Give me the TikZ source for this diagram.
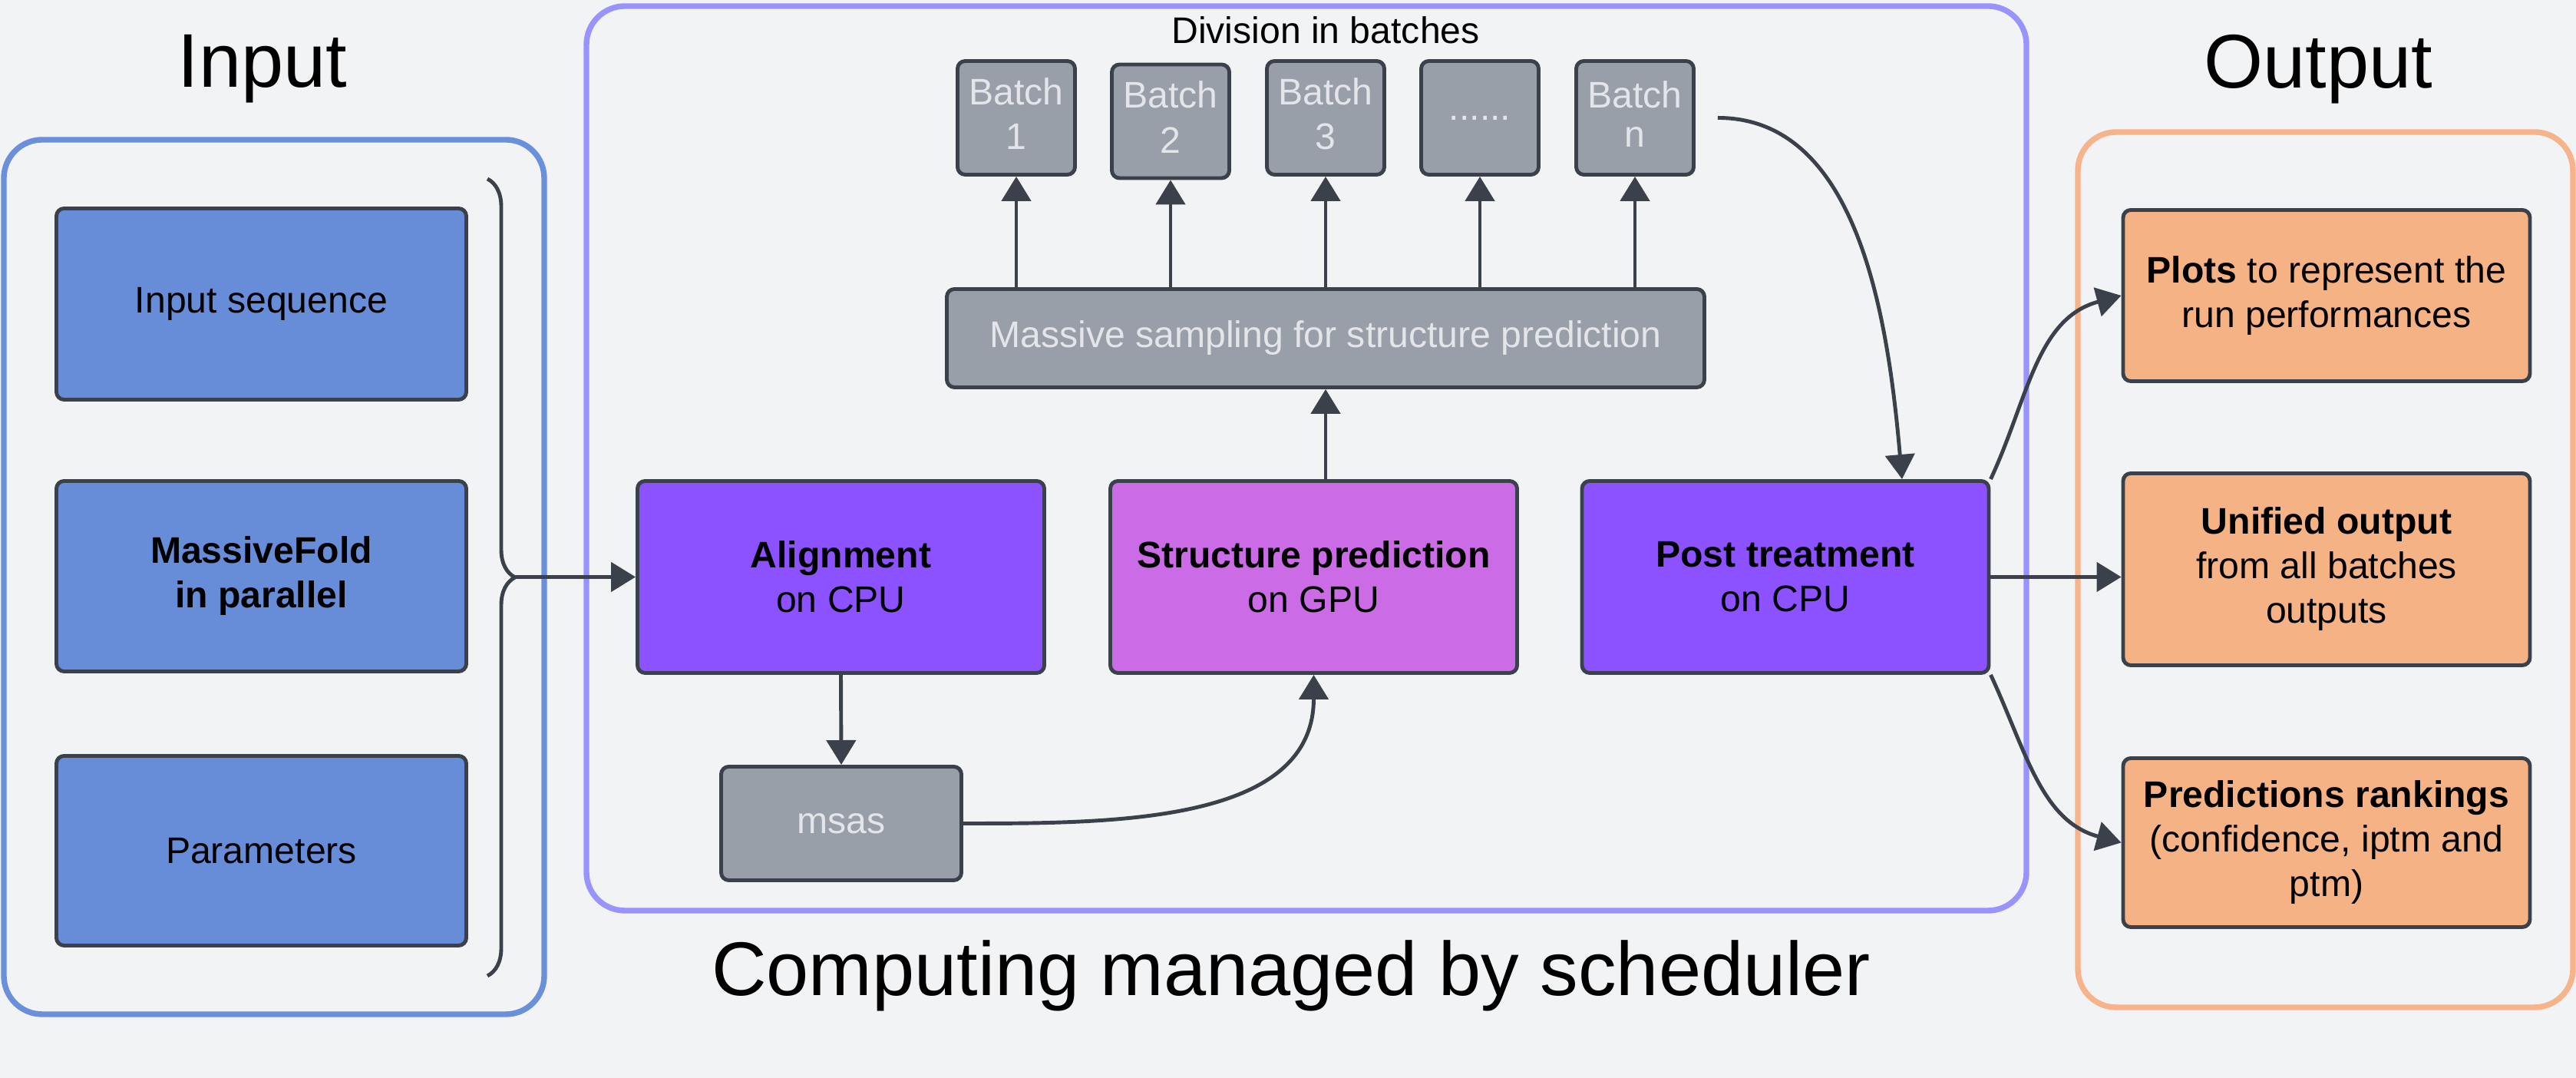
\documentclass[tikz,border=0pt]{standalone}
\usepackage{fontspec}
\setmainfont{Liberation Sans}
\usetikzlibrary{arrows.meta,decorations.pathreplacing}

\definecolor{bgcol}{HTML}{F2F3F5}
\definecolor{edgecol}{HTML}{3A414A}
\definecolor{incol}{HTML}{6A8FDB}
\definecolor{infill}{HTML}{678CD8}
\definecolor{midcol}{HTML}{9893FF}
\definecolor{greyfill}{HTML}{999FA8}
\definecolor{greytext}{HTML}{E3E5E9}
\definecolor{cpucol}{HTML}{8C52FF}
\definecolor{gpucol}{HTML}{CB6CE6}
\definecolor{outcol}{HTML}{F7B38A}
\definecolor{outfill}{HTML}{F5B285}

\begin{document}
\begin{tikzpicture}[
  block/.style={draw=edgecol,line width=1.4pt,rounded corners=0.1cm,align=center,
    minimum width=5.3cm,minimum height=2.5cm,font=\fontsize{13.7}{16.5}\selectfont},
  greybox/.style={block,fill=greyfill,text=greytext},
  batchbox/.style={minimum width=1.53cm,minimum height=1.48cm},
  flow/.style={draw=edgecol,line width=1.4pt,-{Triangle[length=0.32cm,width=0.38cm]}},
  panel/.style={line width=2.1pt,rounded corners=0.5cm},
  heading/.style={font=\fontsize{28.2}{34}\selectfont}]

\fill[bgcol] (0,0) rectangle (33.56,14.04);
\useasboundingbox (0,0) rectangle (33.56,14.04);

% the three frames
\draw[panel,draw=incol] (0.05,0.83) rectangle (7.09,12.22);
\draw[panel,draw=midcol] (7.64,2.18) rectangle (26.40,13.96);
\draw[panel,draw=outcol] (27.07,0.92) rectangle (33.52,12.32);

\node[heading] (intitle) at (3.42,13.14) {Input};
\node[heading] (outtitle) at (30.20,13.14) {Output};
\node[heading] (schedtitle) at (16.82,1.33) {Computing managed by scheduler};
\node[font=\fontsize{13.7}{16.5}\selectfont] (divtitle) at (17.27,13.65) {Division in batches};

% input side
\node[block,fill=infill,minimum width=5.34cm,minimum height=2.49cm] (seq) at (3.405,10.08) {Input sequence};
\node[block,fill=infill,minimum width=5.34cm,minimum height=2.48cm] (mfold) at (3.405,6.535) {\textbf{MassiveFold}\\\textbf{in parallel}};
\node[block,fill=infill,minimum width=5.34cm,minimum height=2.47cm] (params) at (3.405,2.96) {Parameters};

\draw[edgecol,line width=1.4pt,decorate,decoration={brace,amplitude=0.36cm}] (6.35,11.71) -- (6.35,1.33);
\coordinate (bracetip) at (6.71,6.525);

% scheduler part
\node[block,fill=cpucol] (align) at (10.955,6.525) {\textbf{Alignment}\\on CPU};
\node[block,fill=gpucol] (struct) at (17.115,6.525) {\textbf{Structure prediction}\\on GPU};
\node[block,fill=cpucol] (post) at (23.26,6.525) {\textbf{Post treatment}\\on CPU};
\node[greybox,minimum width=3.13cm,minimum height=1.48cm] (msas) at (10.96,3.315) {msas};
\node[greybox,minimum width=9.87cm,minimum height=1.28cm] (massive) at (17.27,9.635) {Massive sampling for structure prediction};

\foreach \i/\x/\y in {1/13.24/12.505,2/15.25/12.46,3/17.27/12.505,n/21.30/12.505}
  \node[greybox,batchbox] (b\i) at (\x,\y) {\raisebox{0.105cm}{\shortstack{Batch\\[0.14cm]\i}}};
\node[greybox,batchbox] (b4) at (19.28,12.505) {......};

% output side
\node[block,fill=outfill,minimum height=2.23cm] (plots) at (30.31,10.19) {\textbf{Plots} to represent the\\run performances};
\node[block,fill=outfill,minimum height=2.50cm] (unified) at (30.31,6.625) {\textbf{Unified output}\\from all batches\\outputs};
\node[block,fill=outfill,minimum height=2.20cm] (ranks) at (30.31,3.065) {\textbf{Predictions rankings}\\(confidence, iptm and\\ptm)};

% connectors
\draw[flow] (bracetip) -- (align.west);
\draw[flow] (align.south) -- (msas.north);
\draw[flow] (msas.east) to[out=0,in=-90] (struct.south);
\draw[flow] (struct.north -| massive.south) -- (massive.south);
\foreach \i in {1,2,3,4,n} \draw[flow] (massive.north -| b\i.south) -- (b\i.south);
\draw[flow,shorten <=0.29cm] (bn.east) to[out=0,in=95] ([xshift=1.52cm]post.north);
\draw[flow] (post.north east) to[out=65,in=195] (plots.west);
\draw[flow] (post.east) -- (post.east -| unified.west);
\draw[flow] (post.south east) to[out=-65,in=165] (ranks.west);

\end{tikzpicture}
\end{document}
